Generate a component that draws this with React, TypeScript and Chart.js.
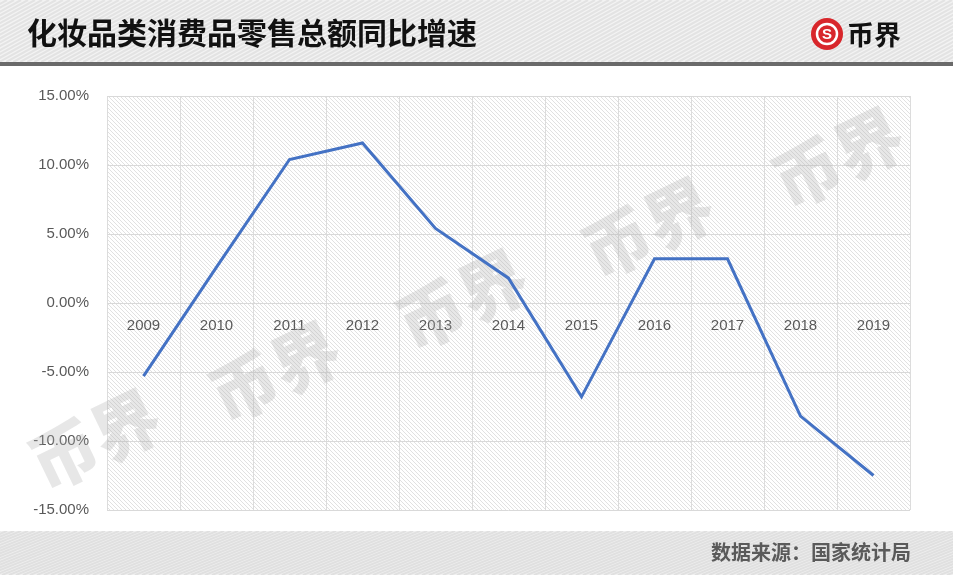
import React, { useEffect, useRef } from "react";
import { Chart, registerables } from "chart.js";

Chart.register(...registerables);

const categories = ["2009", "2010", "2011", "2012", "2013", "2014", "2015", "2016", "2017", "2018", "2019"];
const growthRates = [-5.3, 2.6, 10.4, 11.6, 5.4, 1.8, -6.8, 3.2, 3.2, -8.2, -12.5];
const yMin = -15;
const yMax = 15;
const yStep = 5;
const titleText = "化妆品类消费品零售总额同比增速";
const sourceText = "数据来源：国家统计局";
const brandText = "币界";

const W = 953;
const H = 575;
const CJK = '"Noto Sans CJK SC", "Noto Sans", sans-serif';

function stripes(ctx: CanvasRenderingContext2D, x: number, y: number, w: number, h: number, bg: string, fg: string, spacing: number, slope: number, lw: number) {
  ctx.save();
  ctx.beginPath();
  ctx.rect(x, y, w, h);
  ctx.clip();
  ctx.fillStyle = bg;
  ctx.fillRect(x, y, w, h);
  ctx.strokeStyle = fg;
  ctx.lineWidth = lw;
  const span = h / slope;
  for (let sx = x - span - spacing; sx < x + w + spacing; sx += spacing) {
    ctx.beginPath();
    ctx.moveTo(sx, y + h);
    ctx.lineTo(sx + span, y);
    ctx.stroke();
  }
  ctx.restore();
}

const decorPlugin = {
  id: "decor",
  beforeDraw(chart: any) {
    const ctx: CanvasRenderingContext2D = chart.ctx;
    const a = chart.chartArea;
    ctx.save();
    ctx.fillStyle = "#ffffff";
    ctx.fillRect(0, 0, W, H);
    // header
    stripes(ctx, 0, 0, W, 62, "#f3f3f3", "#e3e3e3", 7, 0.55, 2);
    ctx.fillStyle = "#6a6a6a";
    ctx.fillRect(0, 62, W, 4);
    ctx.fillStyle = "#111111";
    ctx.font = `bold 30px ${CJK}`;
    ctx.textBaseline = "middle";
    ctx.textAlign = "left";
    ctx.fillText(titleText, 27, 33);
    // logo
    ctx.beginPath();
    ctx.arc(827, 34, 16, 0, Math.PI * 2);
    ctx.fillStyle = "#d8262b";
    ctx.fill();
    ctx.beginPath();
    ctx.arc(827, 34, 10, 0, Math.PI * 2);
    ctx.strokeStyle = "#ffffff";
    ctx.lineWidth = 2.5;
    ctx.stroke();
    ctx.fillStyle = "#ffffff";
    ctx.font = `bold 15px "Liberation Sans", sans-serif`;
    ctx.textAlign = "center";
    ctx.fillText("S", 827, 35);
    ctx.fillStyle = "#111111";
    ctx.font = `bold 27px ${CJK}`;
    ctx.textAlign = "left";
    ctx.fillText(brandText, 847, 35);
    // footer
    stripes(ctx, 0, 531, W, H - 531, "#f1f1f1", "#e0e0e0", 7, 0.4, 2);
    ctx.fillStyle = "#5a5a5a";
    ctx.font = `bold 20px ${CJK}`;
    ctx.textAlign = "right";
    ctx.fillText(sourceText, 911, 552);
    // plot area hatch
    ctx.save();
    ctx.beginPath();
    ctx.rect(a.left, a.top, a.right - a.left, a.bottom - a.top);
    ctx.clip();
    ctx.fillStyle = "#ffffff";
    ctx.fillRect(a.left, a.top, a.right - a.left, a.bottom - a.top);
    ctx.strokeStyle = "#e1e1e1";
    ctx.lineWidth = 1;
    const h = a.bottom - a.top;
    for (let sx = a.left - h - 5; sx < a.right + 5; sx += 4) {
      ctx.beginPath();
      ctx.moveTo(sx, a.top);
      ctx.lineTo(sx + h, a.bottom);
      ctx.stroke();
    }
    ctx.restore();
    ctx.restore();
  },
  beforeDatasetsDraw(chart: any) {
    const ctx: CanvasRenderingContext2D = chart.ctx;
    const marks = [
      [95, 440],
      [275, 372],
      [462, 300],
      [648, 228],
      [838, 158],
    ];
    ctx.save();
    ctx.fillStyle = "rgba(175,175,175,0.3)";
    ctx.font = `900 68px ${CJK}`;
    ctx.textAlign = "center";
    ctx.textBaseline = "middle";
    for (const [x, y] of marks) {
      ctx.save();
      ctx.translate(x, y);
      ctx.rotate(-0.45);
      ctx.fillText(brandText, 0, 0);
      ctx.restore();
    }
    ctx.restore();
  },
};

export default function App() {
  const ref = useRef<HTMLCanvasElement | null>(null);
  useEffect(() => {
    document.body.style.margin = "0";
    const canvas = ref.current!;
    const chart = new Chart(canvas, {
      type: "line",
      data: {
        labels: categories,
        datasets: [
          {
            data: growthRates,
            borderColor: "#4472c4",
            borderWidth: 3,
            pointRadius: 0,
            tension: 0,
            fill: false,
          },
        ],
      },
      options: {
        responsive: false,
        animation: false,
        devicePixelRatio: 1,
        layout: { padding: { left: 0, right: 43, top: 96, bottom: 65 } },
        plugins: { legend: { display: false }, tooltip: { enabled: false }, title: { display: false } },
        scales: {
          x: {
            position: { y: 0 } as any,
            offset: true,
            grid: { offset: true, color: "#dcdcdc", lineWidth: 1, drawTicks: false },
            border: { display: false },
            ticks: {
              color: "#595959",
              font: { family: '"Liberation Sans", Arial, sans-serif', size: 15 },
              padding: 14,
              maxRotation: 0,
              autoSkip: false,
            },
          },
          y: {
            min: yMin,
            max: yMax,
            afterFit: (s: any) => {
              s.width = 107;
            },
            grid: { color: "#d9d9d9", lineWidth: 1, drawTicks: false },
            border: { display: false },
            ticks: {
              stepSize: yStep,
              color: "#595959",
              font: { family: '"Liberation Sans", Arial, sans-serif', size: 15 },
              padding: 18,
              callback: (v: any) => Number(v).toFixed(2) + "%",
            },
          },
        },
      },
      plugins: [decorPlugin],
    });
    return () => chart.destroy();
  }, []);
  return (
    <div style={{ position: "absolute", left: 0, top: 0, width: W, height: H }}>
      <canvas ref={ref} width={W} height={H} style={{ width: W, height: H, display: "block" }} />
    </div>
  );
}
